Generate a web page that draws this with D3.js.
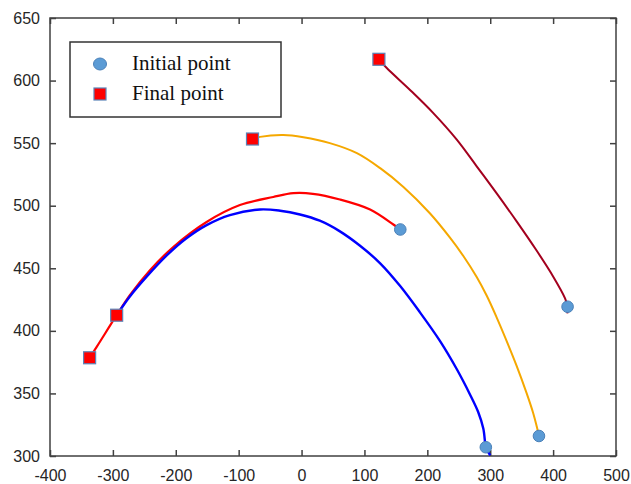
<!DOCTYPE html>
<html>
<head>
<meta charset="utf-8">
<script src="https://cdn.jsdelivr.net/npm/d3@7/dist/d3.min.js"></script>
<style>
  html, body { margin: 0; padding: 0; background: #fff; }
  svg { display: block; }
</style>
</head>
<body>
<svg id="chart" width="631" height="484"></svg>
<script>
// ---- Data ----
const xTicks = [-400, -300, -200, -100, 0, 100, 200, 300, 400, 500];
const yTicks = [300, 350, 400, 450, 500, 550, 600, 650];

// trajectories (x, y)
const redPath = [
  [157, 481], [146, 485], [109, 497], [61, 505], [18, 509.5], [-13, 510],
  [-45, 507], [-98, 500.5], [-151, 487], [-204, 467], [-241, 448.5],
  [-273, 428.5], [-294, 412.5], [-326, 387], [-337, 378.5]
];
const bluePath = [
  [300, 300.5], [293, 307], [292, 310], [289, 322], [281, 335], [268, 349],
  [246.7, 369.5], [220, 392], [188, 415], [156.5, 436], [125, 454],
  [93, 468], [61, 479.5], [29, 488], [-2.5, 493], [-34, 496], [-66, 497],
  [-114, 492.5], [-151, 484.5], [-183, 474], [-214, 460.5], [-246, 443.5],
  [-273, 427.5], [-294, 412.5]
];
const orangePath = [
  [377.5, 316], [374, 323.5], [368.5, 334], [358, 350], [342, 372],
  [326, 392], [310, 411], [294.5, 428], [278.5, 443], [257, 460],
  [236, 474.5], [204, 494], [162, 515], [125, 530], [88, 542], [45, 550],
  [3, 554.7], [-29, 556.5], [-66, 555], [-78, 553.3]
];
const darkRedPath = [
  [422.5, 414], [423, 419.3], [419, 426], [400, 443.5], [374, 464],
  [342, 487.5], [310, 510], [278.5, 531.5], [246.5, 553], [209.5, 574],
  [172.5, 592.5], [135.5, 610], [123, 617]
];

const initialPoints = [[157, 481], [293, 307], [377.5, 316], [423, 419.3]];
const finalPoints = [[-337, 378.5], [-294, 412.5], [-78, 553.3], [123, 617]];

const legendLabels = ["Initial point", "Final point"];

// ---- Layout ----
const L = 50, R = 616, T = 18, B = 456;
const svg = d3.select("#chart");

const x = d3.scaleLinear().domain([-400, 500]).range([L, R]);
const y = d3.scaleLinear().domain([300, 650]).range([B, T]);

const axisColor = "#404040";

function styleAxis(g) {
  g.select(".domain").remove();
  g.selectAll(".tick line").attr("stroke", axisColor).attr("stroke-width", 1.5);
  g.selectAll(".tick text")
    .attr("fill", "#262626")
    .style("font-family", "'Liberation Sans', Arial, sans-serif")
    .style("font-size", "16px");
}
const fmt = d => String(d);

svg.append("g").attr("transform", `translate(0,${B})`)
  .call(d3.axisBottom(x).tickValues(xTicks).tickSize(-6).tickPadding(14).tickFormat(fmt))
  .call(styleAxis);
svg.append("g").attr("transform", `translate(${L},0)`)
  .call(d3.axisLeft(y).tickValues(yTicks).tickSize(-6).tickPadding(10).tickFormat(fmt))
  .call(styleAxis);
svg.append("g").attr("transform", `translate(0,${T})`)
  .call(d3.axisTop(x).tickValues(xTicks).tickSize(-6).tickFormat(""))
  .call(styleAxis);
svg.append("g").attr("transform", `translate(${R},0)`)
  .call(d3.axisRight(y).tickValues(yTicks).tickSize(-6).tickFormat(""))
  .call(styleAxis);

svg.append("rect")
  .attr("x", L).attr("y", T).attr("width", R - L).attr("height", B - T)
  .attr("fill", "none").attr("stroke", axisColor).attr("stroke-width", 1.5);

// ---- Lines ----
const line = d3.line().x(d => x(d[0])).y(d => y(d[1])).curve(d3.curveCatmullRom.alpha(0.5));
const series = [
  { data: redPath, color: "#ff0000", w: 2.2 },
  { data: bluePath, color: "#0000ff", w: 2.4 },
  { data: orangePath, color: "#f5a800", w: 2 },
  { data: darkRedPath, color: "#a3001e", w: 2 }
];
svg.append("g").selectAll("path").data(series).join("path")
  .attr("d", d => line(d.data))
  .attr("fill", "none")
  .attr("stroke", d => d.color)
  .attr("stroke-width", d => d.w)
  .attr("stroke-linejoin", "round");

// ---- Markers ----
const sq = 12;
svg.append("g").selectAll("rect").data(finalPoints).join("rect")
  .attr("x", d => x(d[0]) - sq / 2).attr("y", d => y(d[1]) - sq / 2)
  .attr("width", sq).attr("height", sq)
  .attr("fill", "#ff0000").attr("stroke", "#5b84b8").attr("stroke-width", 1.2);

svg.append("g").selectAll("circle").data(initialPoints).join("circle")
  .attr("cx", d => x(d[0])).attr("cy", d => y(d[1])).attr("r", 5.8)
  .attr("fill", "#5b9bd5").attr("stroke", "#4a80b8").attr("stroke-width", 1);

// ---- Legend ----
const lg = svg.append("g");
lg.append("rect").attr("x", 70).attr("y", 42).attr("width", 211).attr("height", 75)
  .attr("fill", "#fff").attr("stroke", "#333").attr("stroke-width", 1.5);
lg.append("ellipse").attr("cx", 100).attr("cy", 64).attr("rx", 6.5).attr("ry", 6)
  .attr("fill", "#5b9bd5").attr("stroke", "#4a80b8").attr("stroke-width", 1);
lg.append("rect").attr("x", 94).attr("y", 88).attr("width", 12).attr("height", 12)
  .attr("fill", "#ff0000").attr("stroke", "#5b84b8").attr("stroke-width", 1.2);
lg.selectAll("text").data(legendLabels).join("text")
  .attr("x", 132).attr("y", (d, i) => 70 + i * 30)
  .text(d => d)
  .attr("fill", "#111")
  .style("font-family", "'Liberation Serif', 'Times New Roman', serif")
  .style("font-size", "21px");
</script>
</body>
</html>
